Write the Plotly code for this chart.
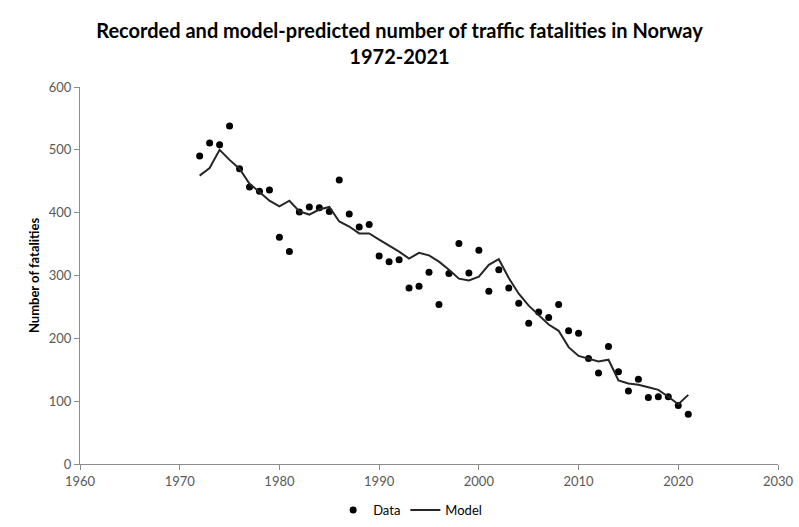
import plotly.graph_objects as go

# Recorded road traffic fatalities and model predictions, Norway
years = list(range(1972, 2022))

recorded = [490, 511, 508, 538, 470, 441, 434, 436, 361, 338,
            401, 409, 408, 402, 452, 398, 377, 381, 331, 322,
            325, 280, 283, 305, 254, 303, 351, 304, 340, 275,
            309, 280, 256, 224, 242, 233, 254, 212, 208, 168,
            145, 187, 147, 116, 135, 106, 107, 107, 93, 79]

model = [459, 471, 500, 484, 470, 446, 433, 419, 410, 419,
         402, 397, 405, 409, 386, 378, 367, 367, 357, 348,
         338, 327, 336, 332, 322, 309, 295, 292, 298, 317,
         326, 296, 271, 252, 237, 222, 212, 186, 172, 167,
         163, 166, 133, 128, 126, 122, 118, 107, 95, 110]

x_ticks = [1960, 1970, 1980, 1990, 2000, 2010, 2020, 2030]
y_ticks = [0, 100, 200, 300, 400, 500, 600]

FONT = "Lato"
AXIS_GREY = "#8c8c8c"
TICK_GREY = "#595959"

fig = go.Figure()
fig.add_trace(go.Scatter(
    x=years, y=recorded, name="Data", mode="markers",
    marker=dict(color="black", size=7),
))
fig.add_trace(go.Scatter(
    x=years, y=model, name="Model", mode="lines",
    line=dict(color="#262626", width=2),
))

fig.update_layout(
    width=799, height=527,
    margin=dict(l=80, r=21, t=87, b=63, autoexpand=False),
    paper_bgcolor="white", plot_bgcolor="white",
    font=dict(family=FONT, color=TICK_GREY, size=13),
    title=dict(
        text="<b>Recorded and model-predicted number of traffic fatalities in Norway<br>1972-2021</b>",
        x=0.5, xanchor="center", y=0.927, yanchor="middle",
        font=dict(family=FONT, size=20, color="black"),
    ),
    showlegend=True,
    legend=dict(
        orientation="h", x=0.473, xanchor="center",
        yref="container", y=0.032, yanchor="middle",
        font=dict(family=FONT, size=13, color="black"),
        itemwidth=30, tracegroupgap=0,
    ),
)

fig.update_xaxes(
    range=[1960, 2030], tickvals=x_ticks, ticktext=[str(v) for v in x_ticks],
    showgrid=False, zeroline=False, automargin=False,
    showline=True, linecolor=AXIS_GREY, linewidth=1,
    ticks="outside", ticklen=5, tickcolor=AXIS_GREY,
    tickfont=dict(family=FONT, size=13, color=TICK_GREY),
)
fig.update_yaxes(
    range=[0, 600], tickvals=y_ticks,
    showgrid=False, zeroline=False, automargin=False,
    showline=True, linecolor=AXIS_GREY, linewidth=1,
    ticks="outside", ticklen=5, tickcolor=AXIS_GREY,
    tickfont=dict(family=FONT, size=13, color=TICK_GREY),
    title=dict(text="<b>Number of fatalities</b>",
               font=dict(family=FONT, size=13, color="black"), standoff=6),
)

fig.write_html("out.html")
